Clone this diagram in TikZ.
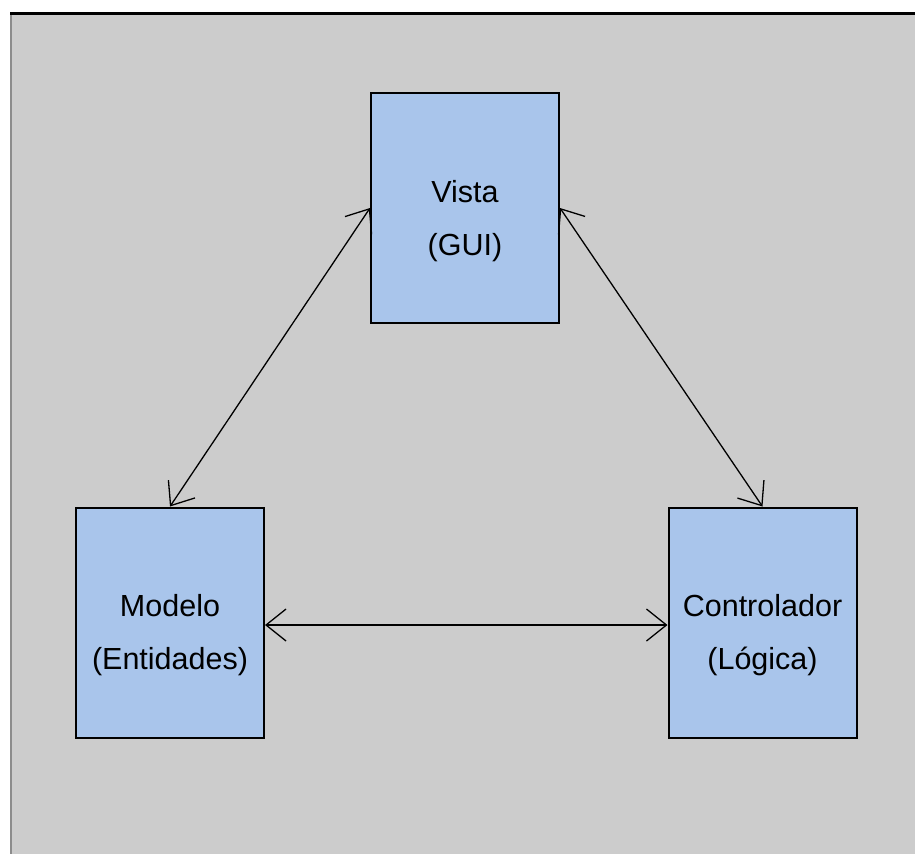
\documentclass[tikz,border=0pt]{standalone}
\usepackage{fontspec}
\setmainfont{Liberation Sans}
\usepackage{tikz}
\usetikzlibrary{arrows.meta}

\definecolor{panelgray}{HTML}{CCCCCC}
\definecolor{boxblue}{HTML}{A9C5EB}
\definecolor{edgegray}{HTML}{8C8C8C}

\tikzset{
	layer/.style={draw=black, line width=2pt, fill=boxblue, minimum width=188pt, minimum height=230pt, inner sep=0pt},
	layertext/.style={yshift=-13pt, align=center, font=\fontsize{30.5pt}{53pt}\selectfont},
	link/.style={line width=1.3pt, {Straight Barb[length=20pt,width=32pt]}-{Straight Barb[length=20pt,width=32pt]}}
}

\begin{document}
\begin{tikzpicture}[x=1pt, y=-1pt]
	\useasboundingbox (0,0) rectangle (915,854);

	% Draw panel
	\fill[panelgray] (11,15) rectangle (915,854);
	\draw[edgegray, line width=2pt] (11,15) -- (11,854);
	\draw[black, line width=3pt] (10,13.5) -- (915,13.5);

	% Layers
	\node[layer, label={[layertext]center:Vista\\(GUI)}] (vista) at (465,208) {};
	\node[layer, label={[layertext]center:Modelo\\(Entidades)}] (modelo) at (170,622.5) {};
	\node[layer, label={[layertext]center:Controlador\\(Lógica)}] (control) at (762.5,622.5) {};

	% Links
	\draw[link] (vista.west) -- (modelo.north);
	\draw[link] (vista.east) -- (control.north);
	\draw[link] ([yshift=-2.5pt]modelo.east) -- ([yshift=-2.5pt]control.west);

\end{tikzpicture}
\end{document}
